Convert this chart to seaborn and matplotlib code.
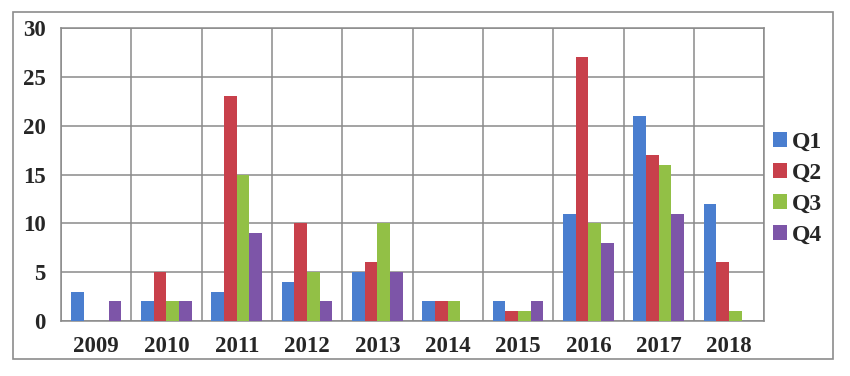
import pandas as pd
import matplotlib.pyplot as plt
import seaborn as sns
from matplotlib.patches import Rectangle

# datos
anios = ['2009', '2010', '2011', '2012', '2013', '2014', '2015', '2016', '2017', '2018']
q1 = [3, 2, 3, 4, 5, 2, 2, 11, 21, 12]
q2 = [0, 5, 23, 10, 6, 2, 1, 27, 17, 6]
q3 = [0, 2, 15, 5, 10, 2, 1, 10, 16, 1]
q4 = [2, 2, 9, 2, 5, 0, 2, 8, 11, 0]
trimestres = ['Q1', 'Q2', 'Q3', 'Q4']
colores = ['#4A7ECF', '#C8404B', '#92C046', '#7D55A8']

df = pd.DataFrame({'anio': anios, 'Q1': q1, 'Q2': q2, 'Q3': q3, 'Q4': q4})
df = df.melt(id_vars='anio', value_vars=trimestres, var_name='trimestre', value_name='cantidad')

sns.set_style('white')
plt.rcParams['font.family'] = ['Liberation Serif', 'DejaVu Serif']

fig = plt.figure(figsize=(8.5, 3.76), dpi=100)
ax = fig.add_axes([0.0718, 0.1463, 0.8272, 0.7792])

sns.barplot(data=df, x='anio', y='cantidad', hue='trimestre', hue_order=trimestres,
            palette=colores, width=0.72, saturation=1, linewidth=0, ax=ax, zorder=3)

gris = '#8a8a8a'
ax.set_ylim(0, 30)
ax.set_yticks(range(0, 31, 5))
ax.set_xlim(-0.5, 9.5)
ax.set_xticks([i - 0.5 for i in range(11)], minor=True)
ax.grid(axis='y', which='major', color=gris, linewidth=1.1, zorder=0)
ax.grid(axis='x', which='minor', color=gris, linewidth=1.1, zorder=0)
ax.tick_params(axis='x', which='major', length=0, pad=11, labelsize=16.5)
ax.tick_params(axis='x', which='minor', length=7, color=gris, width=1.1)
ax.tick_params(axis='y', length=5, color=gris, width=1.1, labelsize=16.5, pad=6)
for lab in ax.get_xticklabels() + ax.get_yticklabels():
    lab.set_fontweight('bold')
for s in ax.spines.values():
    s.set_color(gris)
    s.set_linewidth(1.1)
ax.set_xlabel('')
ax.set_ylabel('')

leg = ax.legend(loc='center left', bbox_to_anchor=(1.013, 0.45), frameon=False,
                prop={'weight': 'bold', 'size': 17}, handlelength=0.6, handleheight=0.6,
                handletextpad=0.2, labelspacing=0.42, borderpad=0, borderaxespad=0)

fig.patches.append(Rectangle((0.0153, 0.045), 0.965, 0.923, transform=fig.transFigure,
                             fill=False, edgecolor='#8c8c8c', linewidth=1.2))

fig.savefig('out.png', dpi=100)
